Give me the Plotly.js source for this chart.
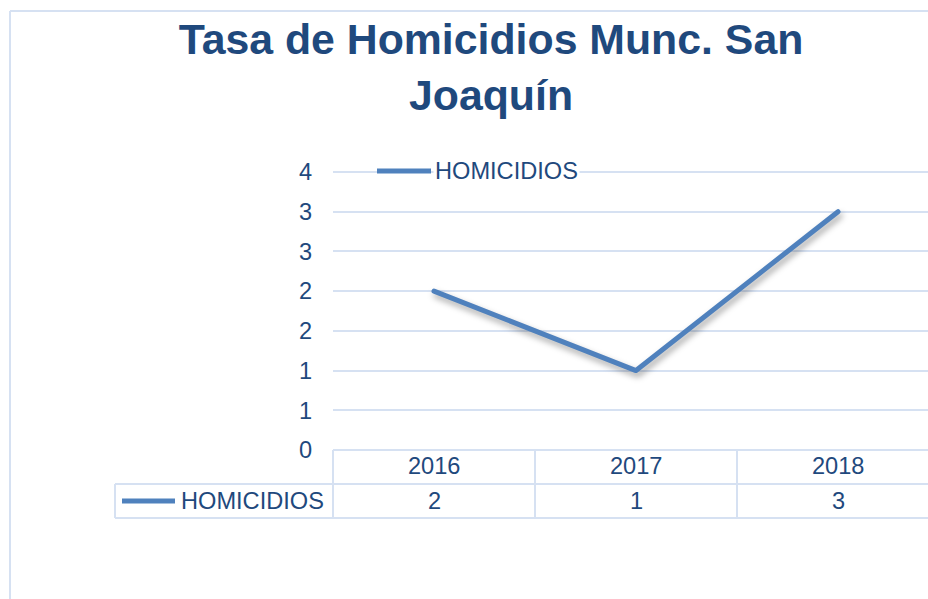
<!DOCTYPE html>
<html>
<head>
<meta charset="utf-8">
<script src="https://cdn.plot.ly/plotly-3.0.1.min.js"></script>
<style>
html,body{margin:0;padding:0;background:#fff;overflow:hidden;}
#chart{width:928px;height:599px;}
.scatterlayer .trace path.js-line{stroke-linecap:round;stroke-linejoin:round;filter:drop-shadow(2px 4px 3px rgba(0,0,0,0.35));}
</style>
</head>
<body>
<div id="chart"></div>
<script>
// ---- data ----
const years = ["2016", "2017", "2018"];
const homicidios = [2, 1, 3];
const seriesName = "HOMICIDIOS";
const yTickVals = [0, 0.5, 1, 1.5, 2, 2.5, 3, 3.5];
const yTickText = ["0", "1", "1", "2", "2", "3", "3", "4"];
const chartTitle = "Tasa de Homicidios Munc. San<br>Joaquín";

// ---- style ----
const W = 928, H = 599;
const mL = 333, mR = 0, mT = 172, mB = 149;
const plotW = W - mL - mR, plotH = H - mT - mB;
const catW = 202; // px per category
const xMin = -0.5, xMax = xMin + plotW / catW;
const textCol = "#1f497d";
const gridCol = "#d6e1f2";
const lineCol = "#4f81bd";
const font = "Liberation Sans, Arial, sans-serif";
const fs = 23.6;

const xIdx = years.map((_, i) => i);
// helpers converting pixel offsets to paper coords
const pxX = px => (px - mL) / plotW;
const pxY = py => (H - mB - py) / plotH;
const idxToPaper = v => (v - xMin) / (xMax - xMin);

const shapes = [];
const annotations = [];
const ln = {color: gridCol, width: 2};
// outer chart border (left and top)
shapes.push({type: "line", xref: "paper", yref: "paper", x0: pxX(10), x1: pxX(10), y0: pxY(11), y1: pxY(610), line: ln});
shapes.push({type: "line", xref: "paper", yref: "paper", x0: pxX(10), x1: pxX(940), y0: pxY(11), y1: pxY(11), line: ln});
// top gridline (at range edge)
shapes.push({type: "line", xref: "paper", yref: "paper", x0: 0, x1: 1.05, y0: 1, y1: 1, line: ln, layer: "below"});
// data table horizontal lines
shapes.push({type: "line", xref: "paper", yref: "paper", x0: 0, x1: 1.05, y0: pxY(450), y1: pxY(450), line: ln});
shapes.push({type: "line", xref: "paper", yref: "paper", x0: pxX(115), x1: 1.05, y0: pxY(484), y1: pxY(484), line: ln});
shapes.push({type: "line", xref: "paper", yref: "paper", x0: pxX(115), x1: 1.05, y0: pxY(518), y1: pxY(518), line: ln});
// left cell border
shapes.push({type: "line", xref: "paper", yref: "paper", x0: pxX(115), x1: pxX(115), y0: pxY(484), y1: pxY(518), line: ln});
// category boundaries
for (let i = 0; i <= years.length; i++) {
  const p = idxToPaper(i - 0.5);
  if (p <= 1.001) shapes.push({type: "line", xref: "paper", yref: "paper", x0: p, x1: p, y0: pxY(450), y1: pxY(518), line: ln});
}
// table texts
years.forEach((y, i) => {
  annotations.push({x: i, xref: "x", y: pxY(466), yref: "paper", text: y, showarrow: false, font: {family: font, size: fs, color: textCol}, xanchor: "center", yanchor: "middle"});
  annotations.push({x: i, xref: "x", y: pxY(501), yref: "paper", text: String(homicidios[i]), showarrow: false, font: {family: font, size: fs, color: textCol}, xanchor: "center", yanchor: "middle"});
});
// legend key in table
shapes.push({type: "line", xref: "paper", yref: "paper", x0: pxX(122), x1: pxX(175), y0: pxY(501), y1: pxY(501), line: {color: lineCol, width: 5}});
annotations.push({x: pxX(179), xref: "paper", y: pxY(501), yref: "paper", text: seriesName, showarrow: false, font: {family: font, size: fs, color: textCol}, xanchor: "left", yanchor: "middle"});
// top legend
shapes.push({type: "line", xref: "paper", yref: "paper", x0: pxX(377), x1: pxX(431), y0: pxY(171), y1: pxY(171), line: {color: lineCol, width: 5}});
annotations.push({x: pxX(433), xref: "paper", y: pxY(171), yref: "paper", text: seriesName, showarrow: false, font: {family: font, size: fs, color: textCol}, xanchor: "left", yanchor: "middle", bgcolor: "#ffffff"});

const trace = {
  x: xIdx, y: homicidios, type: "scatter", mode: "lines", name: seriesName,
  line: {color: lineCol, width: 5}, hoverinfo: "skip", cliponaxis: false
};

const layout = {
  width: W, height: H,
  margin: {l: mL, r: mR, t: mT, b: mB, pad: 0},
  paper_bgcolor: "#ffffff", plot_bgcolor: "#ffffff",
  showlegend: false,
  title: {text: chartTitle, x: 491 / W, xanchor: "center", xref: "container", y: 1 - 54 / H, yanchor: "top", yref: "container",
    font: {family: font, size: 42.8, color: textCol, weight: "bold"}},
  xaxis: {range: [xMin, xMax], showgrid: false, zeroline: false, showline: false, showticklabels: false, ticks: "", fixedrange: true},
  yaxis: {range: [0, 3.5], tickvals: yTickVals, ticktext: yTickText, showgrid: true, gridcolor: gridCol, gridwidth: 2,
    zeroline: false, showline: false, ticks: "", ticklabelstandoff: 20,
    tickfont: {family: font, size: fs, color: textCol}, fixedrange: true},
  shapes: shapes,
  annotations: annotations
};

Plotly.newPlot("chart", [trace], layout, {displayModeBar: false, staticPlot: true});
</script>
</body>
</html>
